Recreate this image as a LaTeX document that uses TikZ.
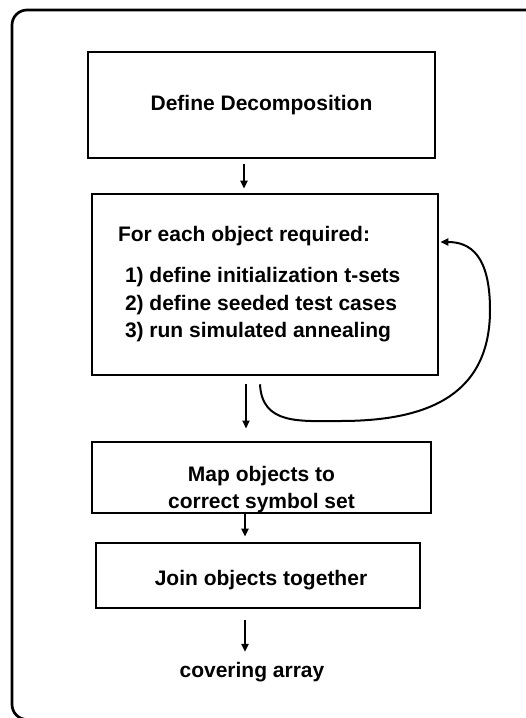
\documentclass[tikz,border=0pt]{standalone}
\usepackage{fontspec}
\setmainfont{Liberation Sans}
\usetikzlibrary{arrows.meta, calc}

\begin{document}
\begin{tikzpicture}[x=1pt, y=-1pt,
        procbox/.style={draw, line width=2.6pt, inner sep=0pt},
        flow/.style={-{Triangle[length=8pt, width=7pt]}, line width=2pt},
        font=\fontsize{21}{27.5}\selectfont\bfseries]
        \useasboundingbox (0,0) rectangle (526,718);
        \clip (0,0) rectangle (526,718);
        \draw[line width=2.7pt, rounded corners=15pt] (12,10) rectangle (560,719.5);

        \coordinate (spine) at (245,0);
        \node[procbox, minimum width=347, minimum height=106] (dec) at (261.5,105) {Define Decomposition};
        \node[procbox, minimum width=346, minimum height=181] (each) at (265,284.5) {\parbox{346pt}{\leftskip=26pt For each object required:\par\vspace{13.5pt}\leftskip=33pt 1) define initialization t-sets\\2) define seeded test cases\\3) run simulated annealing}};
        \node[procbox, minimum width=339, minimum height=67] (map) at (261.5,477.5) {\parbox[c][67pt][b]{339pt}{\centering Map objects to\\correct symbol set}};
        \node[procbox, minimum width=324, minimum height=65] (join) at (258,575.5) {\parbox[c][65pt][c]{324pt}{\centering\vspace*{9pt}\hspace*{6pt}Join objects together}};
        \node[inner sep=0pt] (cover) at (252,672) {covering array};

        \draw[flow] ($(dec.south -| spine)+(-1,5)$) -- ($(each.north -| spine)+(-1,-4)$);
        \draw[flow] ($(each.south -| spine)+(1,8)$) -- ($(map.north -| spine)+(1,-12)$);
        \draw[flow] (map.south -| spine) -- ($(join.north -| spine)+(0,-5)$);
        \draw[flow] ($(join.south -| spine)+(0,11)$) -- ($(cover.north -| spine)+(0,-10)$);

        \draw[flow] ([shift={(-5,8)}]each.south) .. controls (262,425) and (300,421) .. (340,421)
            .. controls (420,421) and (490,400) .. (490,310)
            .. controls (490,255) and (470,242) .. ([shift={(1,-42.5)}]each.east);
\end{tikzpicture}
\end{document}
